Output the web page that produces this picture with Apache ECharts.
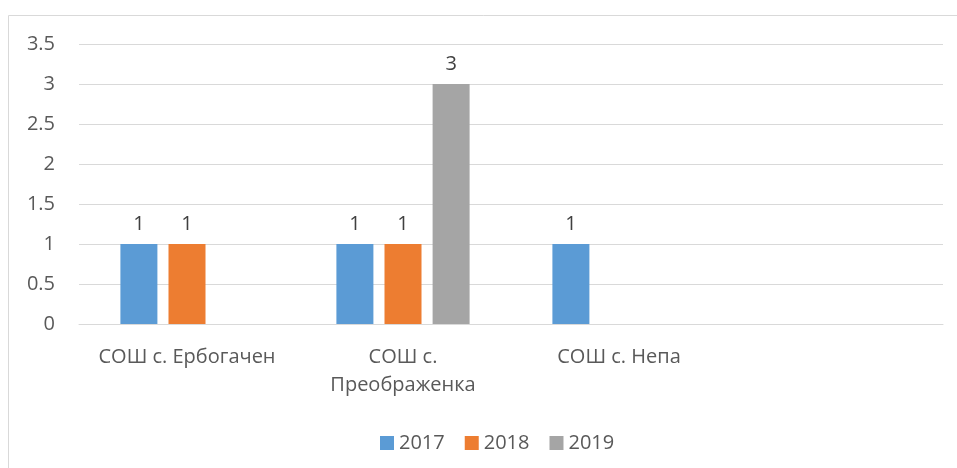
<!DOCTYPE html>
<html>
<head>
<meta charset="utf-8">
<script src="https://cdn.jsdelivr.net/npm/echarts@6/dist/echarts.min.js"></script>
<style>
  html, body { margin: 0; padding: 0; background: #fff; }
  #main { width: 957px; height: 468px; }
</style>
</head>
<body>
<div id="main"></div>
<script>
var schools = ['СОШ с. Ербогачен', 'СОШ с.\nПреображенка', 'СОШ с. Непа', ''];
var years = ['2017', '2018', '2019'];
var v2017 = [1, 1, 1, null];
var v2018 = [1, 1, null, null];
var v2019 = [null, 3, null, null];
var colors = ['#5b9bd5', '#ed7d31', '#a5a5a5'];

var FONT = '"Open Sans", sans-serif';
var chart = echarts.init(document.getElementById('main'));

function barSeries(name, data, color) {
  return {
    name: name,
    type: 'bar',
    data: data,
    barWidth: 37,
    barGap: '30%',
    itemStyle: { color: color },
    label: {
      show: true,
      position: 'top',
      distance: 10,
      color: '#404040',
      fontSize: 20,
      fontFamily: FONT
    }
  };
}

var option = {
  animation: false,
  graphic: [
    {
      type: 'rect',
      shape: { x: 8.5, y: 15.5, width: 1000, height: 1000 },
      style: { fill: 'none', stroke: '#d9d9d9', lineWidth: 1 },
      silent: true
    }
  ],
  grid: { left: 79, right: 14, top: 44, bottom: 144 },
  legend: {
    data: years,
    left: 375,
    top: 428,
    icon: 'rect',
    itemWidth: 14,
    itemHeight: 14,
    itemGap: 20,
    textStyle: { color: '#595959', fontSize: 20, fontFamily: FONT, padding: [0, 0, 0, 0] }
  },
  xAxis: {
    type: 'category',
    data: schools,
    axisLine: { lineStyle: { color: '#d9d9d9', width: 1 } },
    axisTick: { show: false },
    axisLabel: {
      color: '#595959',
      fontSize: 20,
      fontFamily: FONT,
      lineHeight: 28,
      margin: 19,
      interval: 0
    }
  },
  yAxis: {
    type: 'value',
    min: 0,
    max: 3.5,
    interval: 0.5,
    axisLine: { show: false },
    axisTick: { show: false },
    splitLine: { lineStyle: { color: '#d9d9d9', width: 1 } },
    axisLabel: {
      color: '#595959',
      fontSize: 20,
      fontFamily: FONT,
      margin: 24
    }
  },
  series: [
    barSeries(years[0], v2017, colors[0]),
    barSeries(years[1], v2018, colors[1]),
    barSeries(years[2], v2019, colors[2])
  ]
};

chart.setOption(option);
</script>
</body>
</html>
